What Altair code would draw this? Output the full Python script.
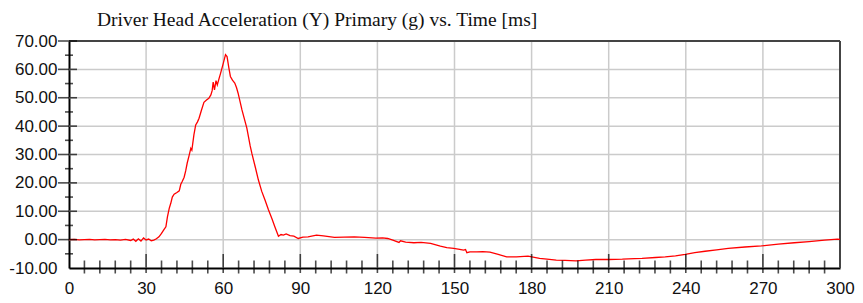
import altair as alt
import pandas as pd

# ---- data ----
time_ms = [0, 2, 4, 6, 8, 10, 12, 14, 16, 18, 20, 22, 24, 25, 26, 27, 28, 29, 30, 31, 32, 33, 34, 35, 36, 37,
           37.7, 38.3, 39, 39.6, 40.2, 40.9, 42, 42.9, 43.5, 44.1, 44.8, 45.4, 46, 46.7, 47.4, 47.8, 48.6, 49.3,
           50, 50.6, 51.5, 52.5, 53.5, 54.4, 55.2, 55.7, 56.1, 56.6, 57.2, 57.7, 58.3, 59, 60, 60.9, 61.5, 62.2,
           62.8, 63.6, 64.5, 65.2, 65.8, 67.3, 69.2, 70.5, 71.2, 72.5, 73.7, 75, 76.3, 77.6, 78.9, 80.2, 81.5,
           82.5, 83.4, 84.5, 86, 87.5, 89.2, 91, 93, 96.3, 99, 103.3, 107, 111, 115, 119.4, 122, 124, 126, 128.4,
           129, 131, 134.2, 137, 140.7, 144.5, 147, 149.7, 152, 153.5, 154.3, 154.8, 156, 158.7, 161, 163.8, 167,
           170.3, 174.1, 178.6, 183.1, 186, 189.6, 193, 197.3, 201, 205, 210, 215.3, 220, 223, 228.2, 232, 236,
           239.8, 243.5, 247.5, 252, 256.5, 263, 269.4, 276, 282.2, 288, 294, 299, 300]
accel_g = [0, 0.1, -0.1, 0, 0.1, -0.1, 0, 0.1, -0.1, 0, -0.2, 0.1, -0.3, 0.2, -0.6, 0.3, -0.5, 0.6, -0.1, 0.2,
           -0.4, -0.2, 0.3, 1.0, 2.2, 3.6, 4.5, 8, 11, 12.8, 15, 16, 16.6, 17.2, 19.5, 20.6, 22, 24.2, 27, 29.5,
           32.2, 31.5, 36.9, 40.4, 41.5, 42.8, 45.5, 48.4, 49.2, 49.8, 51, 52.5, 55.5, 52.8, 56, 54.5, 56.5, 58.7,
           62, 65.2, 64.5, 60.5, 57.5, 56.2, 55.2, 53.5, 51.6, 45.7, 39.3, 33, 30.2, 25.5, 21, 17, 13.9, 10.5, 7.5,
           4.3, 1.2, 1.8, 1.6, 2.0, 1.4, 1.2, 0.4, 0.9, 1.0, 1.6, 1.3, 0.8, 0.9, 1.0, 0.8, 0.5, 0.6, 0.4, -0.2,
           -1.0, -0.4, -0.9, -1.1, -1.0, -1.3, -2.3, -2.8, -3.1, -3.4, -3.7, -3.5, -4.6, -4.3, -4.3, -4.2, -4.4,
           -5.2, -6.1, -6.1, -5.8, -6.6, -6.9, -7.2, -7.3, -7.5, -7.2, -7.0, -7.0, -6.9, -6.7, -6.6, -6.3, -6.1,
           -5.7, -5.2, -4.6, -4.1, -3.6, -3.1, -2.6, -2.2, -1.6, -1.1, -0.7, -0.2, 0.2, 0.1]

x_labels = [0, 30, 60, 90, 120, 150, 180, 210, 240, 270, 300]
x_grid = [30, 60, 90, 120, 150, 180, 210, 240, 270]
x_minor = [t for t in range(6, 300, 6) if t % 30 != 0]
x_major = [30, 60, 90, 120, 150, 180, 210, 240, 270]
y_labels = [-10, 0, 10, 20, 30, 40, 50, 60, 70]
y_grid = [0, 10, 20, 30, 40, 50, 60]
y_minor = [-5, 5, 15, 25, 35, 45, 55, 65]
y_major = [0, 10, 20, 30, 40, 50, 60, 70]

TITLE = "Driver Head Acceleration (Y) Primary (g) vs. Time [ms]"

df = pd.DataFrame({"t": time_ms, "g": accel_g})

xs = alt.Scale(domain=[0, 300], nice=False, zero=False)
ys = alt.Scale(domain=[-10, 70], nice=False, zero=False)

x_axis = alt.Axis(values=x_labels, grid=False, ticks=False, labelPadding=12, labelOverlap=False,
                  labelFont="Liberation Sans", labelFontSize=17, labelColor="#111",
                  domainColor="#000", domainWidth=2, title=None, labelFlush=False)
y_axis = alt.Axis(values=y_labels, grid=False, ticks=False, labelPadding=12, labelOverlap=False,
                  labelExpr="replace(format(datum.value, '.2f'), '\u2212', '-')",
                  labelFont="Liberation Sans", labelFontSize=17, labelColor="#111",
                  domainColor="#000", domainWidth=2, title=None)

X = alt.X("t:Q", scale=xs, axis=x_axis)
Y = alt.Y("g:Q", scale=ys, axis=y_axis)

vgrid = alt.Chart(pd.DataFrame({"t": x_grid})).mark_rule(color="#cbcbcb", strokeWidth=1.5).encode(x=X)
hgrid = alt.Chart(pd.DataFrame({"g": y_grid})).mark_rule(color="#cbcbcb", strokeWidth=1.5).encode(y=Y)

top_line = alt.Chart(pd.DataFrame({"g": [70]})).mark_rule(color="#444", strokeWidth=2).encode(y=Y)
right_line = alt.Chart(pd.DataFrame({"t": [300]})).mark_rule(color="#444", strokeWidth=2).encode(x=X)

xminor_ticks = alt.Chart(pd.DataFrame({"t": x_minor, "g": [-10] * len(x_minor)})).mark_tick(
    orient="vertical", color="#000", thickness=1.6, size=13, yOffset=-1, clip=False).encode(x=X, y=Y)
xmajor_ticks = alt.Chart(pd.DataFrame({"t": x_major, "g": [-10] * len(x_major)})).mark_tick(
    orient="vertical", color="#000", thickness=1.6, size=19, yOffset=-4.5, clip=False).encode(x=X, y=Y)
yminor_ticks = alt.Chart(pd.DataFrame({"g": y_minor, "t": [0] * len(y_minor)})).mark_tick(
    orient="horizontal", color="#000", thickness=1.6, size=8, clip=False).encode(x=X, y=Y)
ymajor_ticks = alt.Chart(pd.DataFrame({"g": y_major, "t": [0] * len(y_major)})).mark_tick(
    orient="horizontal", color="#000", thickness=1.6, size=19, xOffset=-1.5, clip=False).encode(x=X, y=Y)

line = alt.Chart(df).mark_line(color="#ff0000", strokeWidth=1.3).encode(x=X, y=Y)

chart = alt.layer(vgrid, hgrid, top_line, right_line, line,
                  xminor_ticks, xmajor_ticks, yminor_ticks, ymajor_ticks).properties(
    width=771, height=227,
    autosize=alt.AutoSizeParams(type="none"),
    padding={"left": 61, "top": 33, "right": 15, "bottom": 28},
    title=alt.TitleParams(TITLE, anchor="start", frame="group", dx=28, font="Liberation Serif",
                          fontSize=19.5, fontWeight="normal", color="#111", offset=2),
).configure_view(stroke=None).configure_axis(labelOverlap=False).configure(background="white")

chart.save("out.html", embed_options={"renderer": "svg", "actions": False})
